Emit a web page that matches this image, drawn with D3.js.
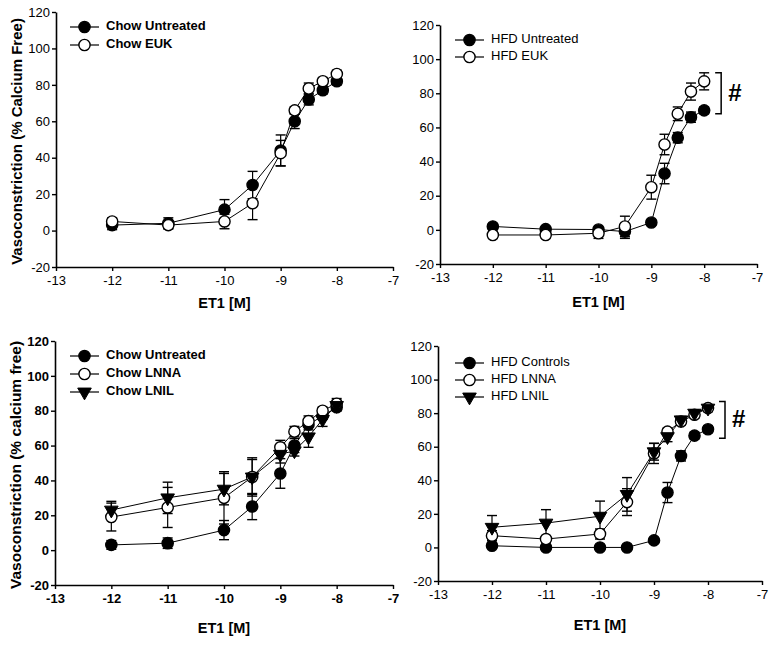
<!DOCTYPE html>
<html>
<head>
<meta charset="utf-8">
<script src="https://cdn.jsdelivr.net/npm/d3@7"></script>
<style>
  html, body { margin: 0; padding: 0; background: #fff; }
  svg { display: block; font-family: Arial, "Liberation Sans", sans-serif; }
</style>
</head>
<body>
<svg id="chart" width="774" height="645"></svg>
<script>
// ---------- data ----------
const xDoses = [-12, -11, -10, -9.5, -9, -8.75, -8.5, -8.25, -8];
const xTicks = [-13, -12, -11, -10, -9, -8, -7];
const yTicks = [-20, 0, 20, 40, 60, 80, 100, 120];

const chowUntreated    = [3, 4, 11.5, 25, 44, 60, 72, 77, 82];
const chowUntreatedErr = [2.5, 3, 5.5, 7.5, 8.5, 4, 3, 2, 2];
const chowEUK          = [5, 3, 5, 15, 42.5, 66, 78, 82, 86];
const chowEUKErr       = [2, 2, 4, 9, 7, 2, 3, 2, 2];

const hfdUntreated     = [2, 0.4, 0.2, -1, 4.3, 33, 54, 66, 70];
const hfdUntreatedErr  = [1.5, 1, 1, 4, 1.5, 6, 3, 3, 2];
const hfdEUK           = [-3, -3, -2, 2, 25, 50, 68, 81, 87];
const hfdEUKErr        = [2, 2, 3, 6, 7, 6, 4, 5, 5];

const chowLNNA         = [19, 24.5, 30, 42, 59, 68, 74, 80, 84];
const chowLNNAErr      = [8, 11.5, 15, 10, 4, 3, 3, 2, 3];
const chowLNIL         = [23, 30, 35, 42, 55, 57, 65, 75, 83];
const chowLNILErr      = [5, 9, 9, 11, 5, 3, 6, 4, 3];

const hfdControls      = [1, 0, 0, 0, 4.2, 32.7, 54.5, 66.6, 70.4];
const hfdControlsErr   = [1.5, 1, 1, 1, 1.5, 6, 3, 2, 2];
const hfdLNNA          = [7, 5, 8, 27, 56, 69, 75, 79, 83];
const hfdLNNAErr       = [3, 2, 3, 8, 6, 2, 2, 2, 2];
const hfdLNIL          = [12, 14.5, 18.6, 31.6, 57, 66, 76, 80, 83];
const hfdLNILErr       = [7, 8, 9, 10, 5, 3, 2, 2, 2];

// ---------- panels ----------
const panels = [
  {
    xr: [56, 393], yr: [267, 12], tickBold: false, legendBold: true,
    ytitle: "Vasoconstriction (% Calcium Free)", ytitleX: 18, ytitleSize: 15,
    xtitleY: 304, legend: {x0: 70, y0: 27, dy: 18},
    series: [
      {name: "Chow Untreated", v: chowUntreated, e: chowUntreatedErr, m: "filled"},
      {name: "Chow EUK", v: chowEUK, e: chowEUKErr, m: "open"}
    ]
  },
  {
    xr: [440, 757], yr: [264, 25], tickBold: false, legendBold: false,
    ytitle: null, xtitleY: 303, legend: {x0: 455, y0: 40, dy: 17},
    bracket: {top: 92, bottom: 68},
    series: [
      {name: "HFD Untreated", v: hfdUntreated, e: hfdUntreatedErr, m: "filled"},
      {name: "HFD EUK", v: hfdEUK, e: hfdEUKErr, m: "open"}
    ]
  },
  {
    xr: [55, 393], yr: [585, 341], tickBold: true, legendBold: true,
    ytitle: "Vasoconstriction (% calcium free)", ytitleX: 17, ytitleSize: 15.5,
    xtitleY: 629, legend: {x0: 70, y0: 356, dy: 18},
    series: [
      {name: "Chow Untreated", v: chowUntreated, e: chowUntreatedErr, m: "filled"},
      {name: "Chow LNNA", v: chowLNNA, e: chowLNNAErr, m: "open"},
      {name: "Chow LNIL", v: chowLNIL, e: chowLNILErr, m: "tri"}
    ]
  },
  {
    xr: [438, 762], yr: [581, 346], tickBold: false, legendBold: false,
    ytitle: null, xtitleY: 626, legend: {x0: 455, y0: 363, dy: 17},
    bracket: {top: 87, bottom: 65},
    series: [
      {name: "HFD Controls", v: hfdControls, e: hfdControlsErr, m: "filled"},
      {name: "HFD LNNA", v: hfdLNNA, e: hfdLNNAErr, m: "open"},
      {name: "HFD LNIL", v: hfdLNIL, e: hfdLNILErr, m: "tri"}
    ]
  }
];

const svg = d3.select("#chart");
const R = 5.6;
const triSym = d3.symbol().type(d3.symbolTriangle).size(80);

function drawMarker(g, type, cx, cy) {
  if (type === "tri") {
    g.append("path").attr("d", triSym())
      .attr("transform", `translate(${cx},${cy}) rotate(180)`)
      .attr("fill", "#000").attr("stroke", "#000").attr("stroke-width", 1);
  } else {
    g.append("circle").attr("cx", cx).attr("cy", cy).attr("r", R)
      .attr("fill", type === "filled" ? "#000" : "#fff")
      .attr("stroke", "#000").attr("stroke-width", 1.4);
  }
}

panels.forEach(p => {
  const x = d3.scaleLinear().domain([-13, -7]).range(p.xr);
  const y = d3.scaleLinear().domain([-20, 120]).range(p.yr);
  const g = svg.append("g");
  const tw = p.tickBold ? "bold" : "normal";
  const tfs = 13;

  // axes
  const ax = g.append("g").attr("transform", `translate(0,${p.yr[0]})`)
    .call(d3.axisBottom(x).tickValues(xTicks).tickFormat(d3.format("d")).tickSize(4).tickSizeOuter(0).tickPadding(5));
  const ay = g.append("g").attr("transform", `translate(${p.xr[0]},0)`)
    .call(d3.axisLeft(y).tickValues(yTicks).tickFormat(d3.format("d")).tickSize(4).tickSizeOuter(0).tickPadding(2));
  [ax, ay].forEach(a => {
    a.select(".domain").attr("stroke", "#000").attr("stroke-width", 1.6);
    a.selectAll(".tick line").attr("stroke", "#000").attr("stroke-width", 1.4);
    a.selectAll(".tick text").attr("fill", "#000").attr("font-size", tfs).attr("font-weight", tw)
      .attr("font-family", "Arial, 'Liberation Sans', sans-serif")
      .text(d => d < 0 ? "-" + Math.abs(d) : d);
  });

  // axis titles
  g.append("text").attr("x", (p.xr[0] + p.xr[1]) / 2).attr("y", p.xtitleY)
    .attr("text-anchor", "middle").attr("dominant-baseline", "middle")
    .attr("font-size", 14.5).attr("font-weight", "bold").text("ET1 [M]");
  if (p.ytitle) {
    g.append("text")
      .attr("transform", `translate(${p.ytitleX},${(p.yr[0] + p.yr[1]) / 2 + 2}) rotate(-90)`)
      .attr("text-anchor", "middle").attr("dominant-baseline", "middle")
      .attr("font-size", p.ytitleSize).attr("font-weight", "bold").text(p.ytitle);
  }

  // lines
  const line = d3.line().x((d, i) => x(xDoses[i])).y(d => y(d));
  p.series.forEach(s => {
    g.append("path").datum(s.v).attr("d", line)
      .attr("fill", "none").attr("stroke", "#000").attr("stroke-width", 1);
  });
  // error bars
  p.series.forEach(s => {
    s.v.forEach((v, i) => {
      const cx = x(xDoses[i]);
      const y1 = y(v + s.e[i]), y2 = y(v - s.e[i]);
      g.append("line").attr("x1", cx).attr("x2", cx).attr("y1", y1).attr("y2", y2)
        .attr("stroke", "#000").attr("stroke-width", 1.2);
      [y1, y2].forEach(yy => g.append("line").attr("x1", cx - 5).attr("x2", cx + 5)
        .attr("y1", yy).attr("y2", yy).attr("stroke", "#000").attr("stroke-width", 1.4));
    });
  });
  // markers
  p.series.forEach(s => {
    s.v.forEach((v, i) => drawMarker(g, s.m, x(xDoses[i]), y(v)));
  });

  // legend
  p.series.forEach((s, k) => {
    const ly = p.legend.y0 + k * p.legend.dy;
    const lx = p.legend.x0;
    g.append("line").attr("x1", lx).attr("x2", lx + 29).attr("y1", ly).attr("y2", ly)
      .attr("stroke", "#000").attr("stroke-width", 1.2);
    drawMarker(g, s.m, lx + 14.5, ly);
    g.append("text").attr("x", lx + 36).attr("y", ly).attr("dominant-baseline", "middle")
      .attr("font-size", 13).attr("font-weight", p.legendBold ? "bold" : "normal").text(s.name);
  });

  // significance bracket
  if (p.bracket) {
    const bx = x(-8) + 17;
    const yt = y(p.bracket.top), yb = y(p.bracket.bottom);
    g.append("path").attr("d", `M${bx - 6},${yt}H${bx}V${yb}H${bx - 6}`)
      .attr("fill", "none").attr("stroke", "#000").attr("stroke-width", 1.5);
    g.append("text").attr("x", bx + 7).attr("y", (yt + yb) / 2 + 1)
      .attr("dominant-baseline", "middle").attr("font-size", 24).attr("font-weight", "bold").text("#");
  }
});
</script>
</body>
</html>
